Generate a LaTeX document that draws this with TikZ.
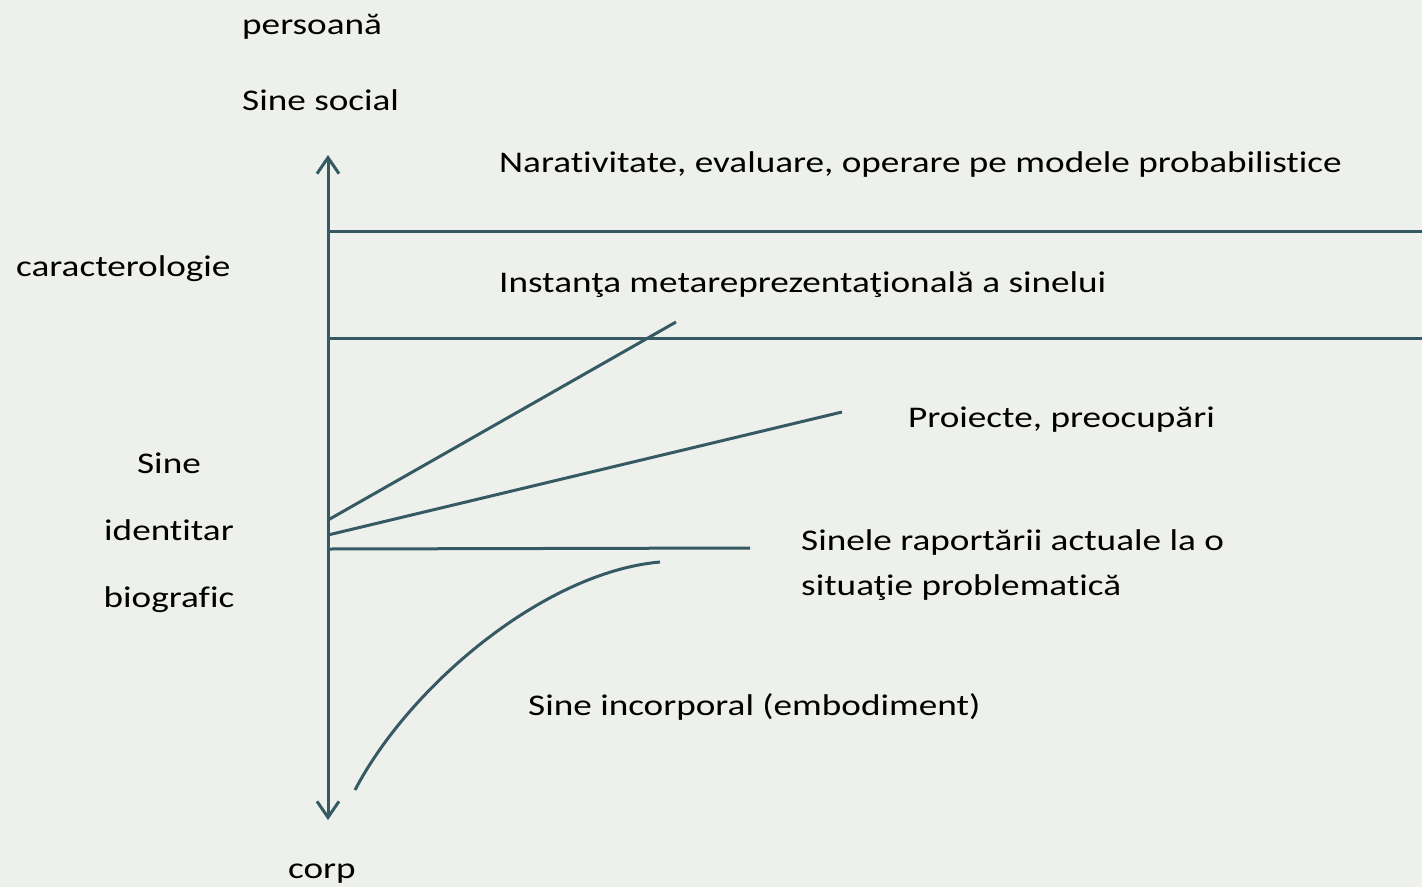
\documentclass[tikz,border=0pt]{standalone}
\usepackage{fontspec}
\setmainfont[Ligatures=NoCommon,FakeStretch=1.24]{Carlito}
\usetikzlibrary{arrows.meta}
\definecolor{bg}{HTML}{EEF0EB}
\definecolor{ln}{HTML}{365A64}
\tikzset{
  lbl/.style={anchor=base west, inner sep=0pt, font=\fontsize{30}{36}\selectfont, text=black},
  clbl/.style={anchor=base, inner sep=0pt, font=\fontsize{30}{36}\selectfont, text=black},
  conn/.style={draw=ln, line width=3pt},
  arr/.style={conn, {Straight Barb[length=16pt,width=22pt]}-{Straight Barb[length=16pt,width=22pt]}}
}
\begin{document}
\begin{tikzpicture}[x=1pt,y=-1pt]
\fill[bg] (0,0) rectangle (1422,887);
\useasboundingbox (0,0) rectangle (1422,887);
% axis
\coordinate (top) at (328,155);
\coordinate (bot) at (328,820);
\draw[arr] (bot) -- (top);
% horizontal bands
\coordinate (h1a) at (328,231); \coordinate (h1b) at (1422,231);
\coordinate (h2a) at (328,338); \coordinate (h2b) at (1422,338);
\draw[conn] (h1a) -- (h1b);
\draw[conn] (h2a) -- (h2b);
% rays
\coordinate (r1a) at (328,520); \coordinate (r1b) at (676,322);
\coordinate (r2a) at (328,535); \coordinate (r2b) at (842,412);
\coordinate (r3a) at (328,549); \coordinate (r3b) at (750,548);
\draw[conn] (r1a) -- (r1b);
\draw[conn] (r2a) -- (r2b);
\draw[conn] (r3a) -- (r3b);
% curve
\coordinate (c1) at (355,790); \coordinate (c2) at (660,562);
\draw[conn] (c1) .. controls (410,685) and (545,572) .. (c2);
% labels
\node[lbl] (persoana) at (242,34) {persoană};
\node[lbl] (social) at (242,110) {Sine social};
\node[lbl] (narat) at (499,172) {Narativitate, evaluare, operare pe modele probabilistice};
\node[lbl] (caract) at (16,276) {caracterologie};
\node[lbl] (inst) at (499,292) {Instanţa metareprezentaţională a sinelui};
\node[lbl] (proi) at (908,427) {Proiecte, preocupări};
\node[clbl] (sine) at (169,473) {Sine};
\node[clbl] (ident) at (169,540) {identitar};
\node[clbl] (biog) at (169,607) {biografic};
\node[lbl] (rap1) at (801,550) {Sinele raportării actuale la o};
\node[lbl] (rap2) at (801,595) {situaţie problematică};
\node[lbl] (incorp) at (528,715) {Sine incorporal (embodiment)};
\node[lbl] (corp) at (288,878) {corp};
\end{tikzpicture}
\end{document}
